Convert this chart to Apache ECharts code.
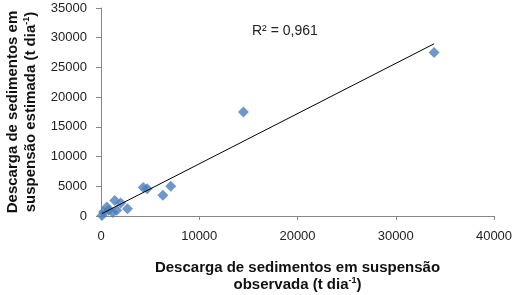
<html>
<head>
    <meta charset='utf-8' />
    <script src="https://cdn.jsdelivr.net/npm/echarts@6/dist/echarts.min.js"></script>
    <title>Descarga de sedimentos</title>
    <style>
        body { margin: 0; background: #fff; }
        #chart { width: 525px; height: 295px; }
    </style>
</head>
<body>
    <div id="chart"></div>
    <script type="text/javascript">
        // observed (x) and estimated (y) suspended sediment discharge, t/day
        var observed = [33900, 14500, 7100, 6300, 4300, 4700, 2700, 1400, 2000, 600, 1200, 100, 260, 770, 1600];
        var estimated = [27500, 17500, 5000, 3500, 4800, 4600, 1200, 2600, 2200, 1500, 570, 100, 670, 950, 950];
        var xTicks = [0, 10000, 20000, 30000, 40000];
        var yTicks = [0, 5000, 10000, 15000, 20000, 25000, 30000, 35000];
        var r2Label = 'R² = 0,961';

        var points = observed.map(function(v, i) { return [v, estimated[i]]; });

        // least squares trendline over the points
        var n = observed.length, sx = 0, sy = 0, sxx = 0, sxy = 0;
        for (var i = 0; i < n; i++) {
            sx += observed[i]; sy += estimated[i];
            sxx += observed[i] * observed[i]; sxy += observed[i] * estimated[i];
        }
        var slope = (n * sxy - sx * sy) / (n * sxx - sx * sx);
        var intercept = (sy - slope * sx) / n;
        var xMin = Math.min.apply(null, observed), xMax = Math.max.apply(null, observed);
        var trend = [[xMin, intercept + slope * xMin], [xMax, intercept + slope * xMax]];

        var axisGray = '#868686';
        var font = 'Liberation Sans, Arial, sans-serif';
        var nameRich = {
            b: { fontSize: 15, fontWeight: 'bold', fontFamily: font, color: '#111' },
            s: { fontSize: 9, fontWeight: 'bold', fontFamily: font, color: '#111', padding: [0, 0, 8, 0] }
        };
        var plain = function(v) { return String(v); };

        var chart = echarts.init(document.getElementById('chart'));
        chart.setOption({
            animation: false,
            grid: { left: 101, right: 31, top: 8, bottom: 79, containLabel: false, outerBoundsMode: 'none' },
            xAxis: {
                type: 'value',
                min: xTicks[0], max: xTicks[xTicks.length - 1], interval: 10000,
                splitLine: { show: false },
                axisLine: { lineStyle: { color: axisGray } },
                axisTick: { show: true, length: 4, lineStyle: { color: axisGray } },
                axisLabel: { color: '#222', fontSize: 13, fontFamily: font, margin: 14, formatter: plain },
                name: '{b|Descarga de sedimentos em suspensão}\n{b|observada (t dia}{s|-1}{b|)}',
                nameLocation: 'middle',
                nameGap: 43,
                nameTextStyle: { lineHeight: 17, rich: nameRich }
            },
            yAxis: {
                type: 'value',
                min: yTicks[0], max: yTicks[yTicks.length - 1], interval: 5000,
                splitLine: { show: false },
                axisLine: { show: true, lineStyle: { color: axisGray } },
                axisTick: { show: true, length: 5, lineStyle: { color: axisGray } },
                axisLabel: { color: '#222', fontSize: 13, fontFamily: font, margin: 14, formatter: plain },
                name: '{b|Descarga de sedimentos em}\n{b|suspensão estimada (t dia}{s|-1}{b|)}',
                nameLocation: 'middle',
                nameGap: 61,
                nameTextStyle: { lineHeight: 18, rich: nameRich }
            },
            graphic: [{
                type: 'text', left: 252, top: 24,
                style: { text: r2Label, fontSize: 14, fontFamily: font, fill: '#222' }
            }],
            series: [{
                type: 'scatter',
                data: points,
                symbol: 'diamond',
                symbolSize: 11,
                itemStyle: { color: '#4A7EBB' },
                z: 3
            }, {
                type: 'line',
                data: trend,
                symbol: 'none',
                lineStyle: { color: '#000', width: 1 },
                z: 4
            }]
        });
    </script>
</body>
</html>
